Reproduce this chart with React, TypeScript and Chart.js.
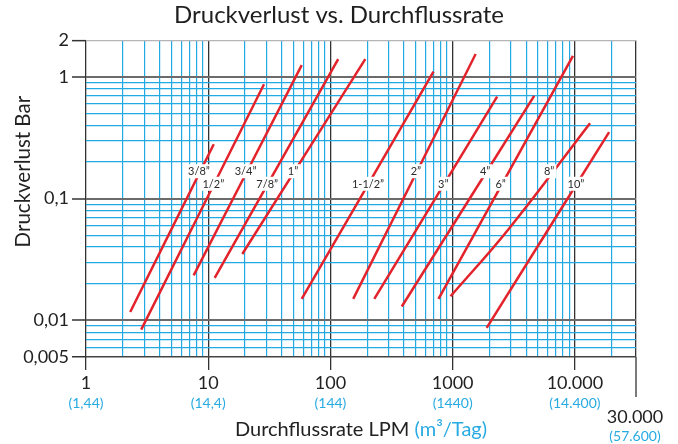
import React, { useEffect, useRef } from 'react';
import { Chart, registerables } from 'chart.js';

Chart.register(...registerables);

// ---- data ----
const pipeSizes = ['3/8”', '1/2”', '3/4”', '7/8”', '1”', '1-1/2”', '2”', '3”', '4”', '6”', '8”', '10”'];

// flow rate in LPM, per pipe size
const flowLpm = [
  [2.3, 11.1],
  [2.83, 28.6],
  [7.6, 58.2],
  [11.3, 115.7],
  [19.0, 192.7],
  [58.2, 697],
  [153.6, 1542],
  [228.5, 2311],
  [383.5, 4647],
  [766, 9647],
  [961, 2844, 13300],
  [1898, 19055],
];

// pressure drop in bar, per pipe size
const pressureDropBar = [
  [0.0117, 0.28],
  [0.0084, 0.87],
  [0.0234, 1.25],
  [0.0223, 1.4],
  [0.0351, 1.4],
  [0.015, 1.105],
  [0.015, 1.544],
  [0.015, 0.689],
  [0.013, 0.698],
  [0.015, 1.487],
  [0.01577, 0.0556, 0.417],
  [0.00868, 0.352],
];

// label anchor positions (data coordinates)
const labelFlow = [8.4, 11, 20.2, 30.4, 49.4, 203, 500, 837, 1845, 2470, 6150, 10200];
const labelDrop = [0.168, 0.1325, 0.168, 0.1325, 0.168, 0.1325, 0.168, 0.1325, 0.168, 0.1325, 0.168, 0.1325];

const xMin = 1;
const xMax = 31623;
const xMajorTicks = [1, 10, 100, 1000, 10000];
const xTickLabels = ['1', '10', '100', '1000', '10.000'];
const xTickSubLabels = ['(1,44)', '(14,4)', '(144)', '(1440)', '(14.400)'];
const xEndLabel = '30.000';
const xEndSubLabel = '(57.600)';
const xExtraGrid = [20000];

const yMin = 0.005;
const yMax = 2;
const yMajorTicks = [2, 1, 0.1, 0.01, 0.005];
const yTickLabels = ['2', '1', '0,1', '0,01', '0,005'];

const gridMultipliers = [1, 2, 3, 4, 5, 6, 7, 8, 9];
const xGridDecades = [1, 10, 100, 1000];
const yGridDecades = [0.001, 0.01, 0.1];

const titleText = 'Druckverlust vs. Durchflussrate';
const xTitleMain = 'Durchflussrate LPM ';
const xTitleUnit = '(m³/Tag)';
const yTitle = 'Druckverlust Bar';

// ---- styles ----
const FONT = 'Lato';
const RED = '#e3232b';
const GRID_BLUE = '#22aae4';
const TEXT_BLUE = '#29abe2';
const DARK = '#222222';

const near = (a: number, b: number) => Math.abs(a - b) <= Math.abs(b) * 1e-6;
const isDecade = (v: number) => {
  const l = Math.log10(v);
  return Math.abs(l - Math.round(l)) < 1e-6;
};
const round6 = (v: number) => Number(v.toPrecision(6));

const xGridValues: number[] = [];
xGridDecades.forEach((d) => gridMultipliers.forEach((m) => xGridValues.push(round6(m * d))));
xGridValues.push(10000, ...xExtraGrid, xMax);

const yGridValues: number[] = [];
yGridDecades.forEach((d) =>
  gridMultipliers.forEach((m) => {
    const v = round6(m * d);
    if (v >= yMin - 1e-12) yGridValues.push(v);
  })
);
yGridValues.push(1, 2);

const overlayPlugin = {
  id: 'overlay',
  afterDatasetsDraw(chart: any) {
    const { ctx } = chart;
    const x = chart.scales.x;
    const y = chart.scales.y;
    ctx.save();
    ctx.font = `11px ${FONT}`;
    ctx.textAlign = 'center';
    ctx.textBaseline = 'middle';
    pipeSizes.forEach((name, i) => {
      const px = x.getPixelForValue(labelFlow[i]);
      const py = y.getPixelForValue(labelDrop[i]);
      const w = ctx.measureText(name).width;
      ctx.fillStyle = '#ffffff';
      ctx.fillRect(px - w / 2 - 2, py - 7, w + 4, 14);
      ctx.fillStyle = '#2b2b2b';
      ctx.fillText(name, px, py + 0.5);
    });
    ctx.restore();
  },
  afterDraw(chart: any) {
    const { ctx, chartArea } = chart;
    const x = chart.scales.x;
    const bottom = chartArea.bottom;
    ctx.save();
    ctx.textAlign = 'center';
    ctx.textBaseline = 'alphabetic';

    // chart title
    ctx.font = `24px ${FONT}`;
    ctx.fillStyle = '#1e1e1e';
    ctx.fillText(titleText, chart.width / 2, chartArea.top - 17);

    ctx.font = `14px ${FONT}`;
    ctx.fillStyle = TEXT_BLUE;
    xMajorTicks.forEach((v, i) => {
      ctx.fillText(xTickSubLabels[i], x.getPixelForValue(v), bottom + 51);
    });

    const ex = x.getPixelForValue(xMax);
    ctx.strokeStyle = '#333333';
    ctx.lineWidth = 1.3;
    ctx.beginPath();
    ctx.moveTo(ex, bottom);
    ctx.lineTo(ex, bottom + 40);
    ctx.stroke();

    ctx.font = `18px ${FONT}`;
    ctx.fillStyle = DARK;
    ctx.fillText(xEndLabel, ex - 1, bottom + 66);
    ctx.font = `14px ${FONT}`;
    ctx.fillStyle = TEXT_BLUE;
    ctx.fillText(xEndSubLabel, ex - 1, bottom + 83.5);

    ctx.font = `20px ${FONT}`;
    const w1 = ctx.measureText(xTitleMain).width;
    const w2 = ctx.measureText(xTitleUnit).width;
    const cx = (chartArea.left + chartArea.right) / 2;
    const sx = cx - (w1 + w2) / 2;
    ctx.textAlign = 'left';
    ctx.fillStyle = DARK;
    ctx.fillText(xTitleMain, sx, bottom + 79);
    ctx.fillStyle = TEXT_BLUE;
    ctx.fillText(xTitleUnit, sx + w1, bottom + 79);

    ctx.translate(30, (chartArea.top + chartArea.bottom) / 2 - 27);
    ctx.rotate(-Math.PI / 2);
    ctx.textAlign = 'center';
    ctx.fillStyle = DARK;
    ctx.font = `20.5px ${FONT}`;
    ctx.fillText(yTitle, 0, 0);
    ctx.restore();
  },
};

export default function App() {
  const canvasRef = useRef<HTMLCanvasElement | null>(null);

  useEffect(() => {
    if (!canvasRef.current) return;
    const datasets = pipeSizes.map((name, i) => ({
      label: name,
      data: flowLpm[i].map((f, j) => ({ x: f, y: pressureDropBar[i][j] })),
      borderColor: RED,
      borderWidth: 2.5,
      pointRadius: 0,
      tension: 0.4,
      fill: false,
    }));

    const chart = new Chart(canvasRef.current, {
      type: 'line',
      data: { datasets },
      plugins: [overlayPlugin],
      options: {
        animation: false,
        responsive: false,
        devicePixelRatio: 1,
        layout: { padding: { left: 0, right: 42, top: 40.3, bottom: 0 } },
        plugins: {
          legend: { display: false },
          tooltip: { enabled: false },
          title: { display: false },
        },
        scales: {
          x: {
            type: 'logarithmic',
            min: xMin,
            max: xMax,
            afterBuildTicks: (scale: any) => {
              scale.ticks = xGridValues.map((value) => ({ value }));
            },
            afterFit: (scale: any) => {
              scale.height = 87;
            },
            border: { display: false },
            grid: {
              color: (c: any) => {
                const v = c.tick?.value;
                if (v === undefined) return GRID_BLUE;
                if (v >= xMax * 0.999 || isDecade(v)) return '#333333';
                return GRID_BLUE;
              },
              lineWidth: (c: any) => {
                const v = c.tick?.value;
                if (v !== undefined && (v >= xMax * 0.999 || isDecade(v))) return 1.3;
                return 1.2;
              },
              tickColor: (c: any) => {
                const v = c.tick?.value;
                if (v !== undefined && xMajorTicks.some((t) => near(v, t))) return '#333333';
                return 'rgba(0,0,0,0)';
              },
              tickWidth: 1.3,
              tickLength: 13,
            },
            ticks: {
              autoSkip: false,
              maxRotation: 0,
              padding: 2,
              color: DARK,
              font: { family: FONT, size: 18 },
              callback: (value: any) => {
                const idx = xMajorTicks.findIndex((t) => near(Number(value), t));
                return idx >= 0 ? xTickLabels[idx] : '';
              },
            },
          },
          y: {
            type: 'logarithmic',
            min: yMin,
            max: yMax,
            afterBuildTicks: (scale: any) => {
              scale.ticks = yGridValues.map((value) => ({ value }));
            },
            afterFit: (scale: any) => {
              scale.width = 86;
            },
            border: { display: false },
            grid: {
              color: (c: any) => {
                const v = c.tick?.value;
                if (v === undefined) return GRID_BLUE;
                if (near(v, yMax)) return '#b5b5b5';
                if (near(v, yMin)) return '#444444';
                if (isDecade(v)) return '#6b6b6b';
                return GRID_BLUE;
              },
              lineWidth: (c: any) => {
                const v = c.tick?.value;
                if (v === undefined) return 1.2;
                if (near(v, yMax)) return 1.3;
                if (near(v, yMin)) return 1.5;
                if (isDecade(v)) return 2;
                return 1.2;
              },
              tickColor: (c: any) => {
                const v = c.tick?.value;
                if (v !== undefined && yMajorTicks.some((t) => near(v, t))) return '#333333';
                return 'rgba(0,0,0,0)';
              },
              tickWidth: 1.5,
              tickLength: 14,
            },
            ticks: {
              autoSkip: false,
              padding: 3,
              color: DARK,
              font: { family: FONT, size: 18 },
              callback: (value: any) => {
                const idx = yMajorTicks.findIndex((t) => near(Number(value), t));
                return idx >= 0 ? yTickLabels[idx] : '';
              },
            },
          },
        },
      } as any,
    });
    return () => chart.destroy();
  }, []);

  return (
    <div style={{ position: 'fixed', left: 0, top: 0, width: 678, height: 444, background: '#ffffff' }}>
      <canvas ref={canvasRef} width={678} height={444} style={{ display: 'block' }} />
    </div>
  );
}
